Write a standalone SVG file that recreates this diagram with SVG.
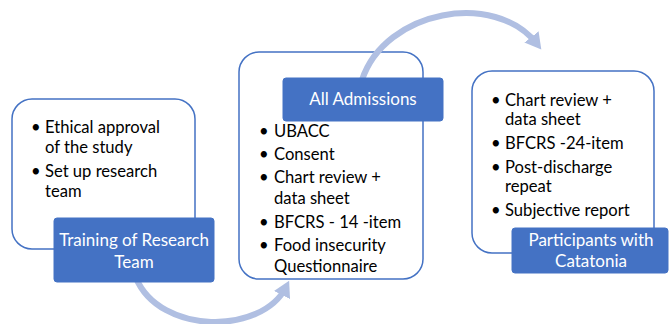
<svg xmlns="http://www.w3.org/2000/svg" width="669" height="324" viewBox="0 0 669 324">
<defs>
<style>
.box{fill:#fff;stroke:#4472c4;stroke-width:1.5}
.lbl{fill:#4472c4;stroke:#4472c4;stroke-width:1}
.t{font-family:Lato,"Liberation Sans",sans-serif;font-size:16.6px;fill:#000}
.lt{font-family:Lato,"Liberation Sans",sans-serif;font-size:17px;fill:#fff;text-anchor:middle}
.arc{fill:none;stroke:#b0bfe2;stroke-width:6}
</style>
<marker id="ah" markerUnits="userSpaceOnUse" markerWidth="18" markerHeight="18" viewBox="0 0 18 18" refX="9" refY="9" orient="auto">
<path d="M0,0 L16,9 L0,18 Z" fill="#b0bfe2"/>
</marker>
</defs>
<g id="node1">
<rect class="box" x="12" y="99" width="183" height="150" rx="20"/>
<text class="t"><tspan x="31" y="133">•</tspan><tspan x="45" y="133">Ethical approval</tspan><tspan x="45" y="153">of the study</tspan><tspan x="31" y="177">•</tspan><tspan x="45" y="177">Set up research</tspan><tspan x="45" y="197">team</tspan></text>
</g>
<g id="node2">
<rect class="box" x="239" y="52" width="184" height="227" rx="20"/>
<text class="t"><tspan x="259" y="137">•</tspan><tspan x="274" y="137">UBACC</tspan><tspan x="259" y="160">•</tspan><tspan x="274" y="160">Consent</tspan><tspan x="259" y="183">•</tspan><tspan x="274" y="183">Chart review +</tspan><tspan x="274" y="204">data sheet</tspan><tspan x="259" y="228">•</tspan><tspan x="274" y="228">BFCRS - 14 -item</tspan><tspan x="259" y="251">•</tspan><tspan x="274" y="251">Food insecurity</tspan><tspan x="274" y="272">Questionnaire</tspan></text>
</g>
<g id="node3">
<rect class="box" x="472" y="71" width="182" height="182" rx="20"/>
<text class="t"><tspan x="491" y="106">•</tspan><tspan x="505" y="106">Chart review +</tspan><tspan x="505" y="125">data sheet</tspan><tspan x="491" y="149">•</tspan><tspan x="505" y="149">BFCRS -24-item</tspan><tspan x="491" y="173">•</tspan><tspan x="505" y="173">Post-discharge</tspan><tspan x="505" y="192">repeat</tspan><tspan x="491" y="216">•</tspan><tspan x="505" y="216">Subjective report</tspan></text>
</g>
<g id="connectors">
<path class="arc" d="M136,278 C160,335 262,335 286,287" marker-end="url(#ah)"/>
<path class="arc" d="M362,80 C385,10 495,-10 537,44" marker-end="url(#ah)"/>
</g>
<g id="label1">
<rect class="lbl" x="54" y="218" width="160" height="64" rx="3"/>
<text class="lt"><tspan x="134" y="246">Training of Research</tspan><tspan x="134" y="268">Team</tspan></text>
</g>
<g id="label2">
<rect class="lbl" x="283" y="78" width="160" height="43" rx="3"/>
<text class="lt" x="363" y="105">All Admissions</text>
</g>
<g id="label3">
<rect class="lbl" x="512" y="228" width="156" height="45" rx="3"/>
<text class="lt"><tspan x="591" y="246">Participants with</tspan><tspan x="591" y="267">Catatonia</tspan></text>
</g>
</svg>
